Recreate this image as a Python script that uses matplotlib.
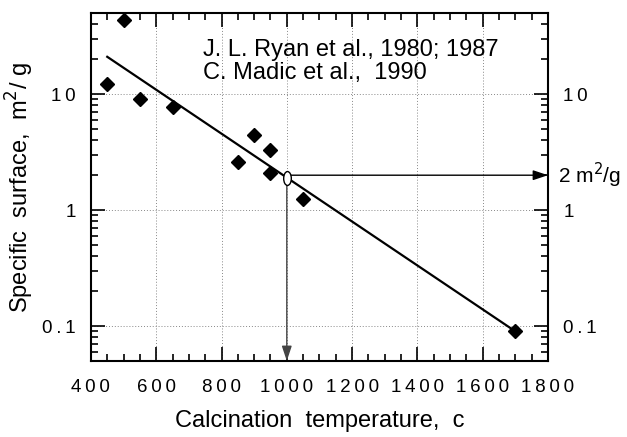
import matplotlib
matplotlib.use("Agg")
import matplotlib.pyplot as plt
import matplotlib.transforms as mtransforms
from matplotlib.path import Path
from matplotlib.ticker import MultipleLocator, LogLocator, FixedLocator, NullFormatter, FuncFormatter

plt.rcParams["font.family"] = ["Liberation Sans", "DejaVu Sans"]

# measured points (calcination temperature, specific surface)
temperature = [450, 500, 550, 650, 850, 900, 950, 950, 1050, 1700]
surface = [12.2, 44, 9.0, 7.7, 2.6, 4.4, 3.3, 2.1, 1.24, 0.09]

# fitted line end points
fit_temperature = [450, 1700]
fit_surface = [21, 0.09]

# read-off point
target_temperature = 1000
target_surface = 1.9
arrow_level = 2.0

x_ticks = [400, 600, 800, 1000, 1200, 1400, 1600, 1800]
y_ticks = [0.1, 1, 10]


def spaced(value, pos=None):
    # old typewriter-style tick labels have wide letter spacing
    return "\u2009".join(f"{value:g}")


fig = plt.figure(figsize=(6.27, 4.37), dpi=100)
ax = fig.add_axes([0.145, 0.174, 0.729, 0.796])

ax.set_yscale("log")
ax.set_xlim(400, 1800)
ax.set_ylim(0.05, 50)

ax.plot(fit_temperature, fit_surface, color="black", lw=1.6, zorder=3)
ax.plot(temperature, surface, linestyle="", marker="D", ms=7.5,
        color="black", zorder=4)

# arrows from the read-off point
ax.annotate("", xy=(1800, arrow_level), xytext=(target_temperature, arrow_level),
            arrowprops=dict(arrowstyle="-|>,head_length=0.9,head_width=0.3",
                            color="black", lw=1.0, shrinkA=0, shrinkB=0),
            zorder=2)
ax.annotate("", xy=(target_temperature, 0.05), xytext=(target_temperature, target_surface),
            arrowprops=dict(arrowstyle="-|>,head_length=0.9,head_width=0.3",
                            color="#444444", lw=1.0, shrinkA=0, shrinkB=0),
            zorder=2)

ellipse = Path.unit_circle().transformed(mtransforms.Affine2D().scale(0.55, 1.0))
ax.plot([target_temperature], [target_surface], linestyle="", marker=ellipse,
        ms=10, mfc="white", mec="black", mew=1.0, zorder=5)

ax.xaxis.set_major_locator(FixedLocator(x_ticks))
ax.xaxis.set_minor_locator(MultipleLocator(50))
ax.xaxis.set_major_formatter(FuncFormatter(spaced))
ax.yaxis.set_major_locator(FixedLocator(y_ticks))
ax.yaxis.set_minor_locator(LogLocator(base=10, subs=range(2, 10)))
ax.yaxis.set_minor_formatter(NullFormatter())
ax.yaxis.set_major_formatter(FuncFormatter(spaced))

ax.tick_params(which="both", direction="in", top=True, right=True,
               labelright=True, labelsize=13.5, width=1.2)
ax.tick_params(which="major", length=10)
ax.tick_params(axis="x", which="major", pad=13)
ax.tick_params(axis="y", which="major", pad=11)
ax.tick_params(which="minor", length=5)

ax.grid(True, which="major", linestyle=(0, (1, 2)), color="#888888", lw=0.7)
ax.set_axisbelow(True)

for spine in ax.spines.values():
    spine.set_linewidth(1.5)

ax.set_xlabel("Calcination  temperature,  c", fontsize=17, labelpad=10)
ax.set_ylabel("Specific  surface,  m$^2$/ g", fontsize=17, labelpad=4)

ax.text(0.245, 0.925, "J. L. Ryan et al., 1980; 1987\nC. Madic et al.,  1990",
        transform=ax.transAxes, fontsize=17, va="top", ha="left", linespacing=1.05)

trans = mtransforms.blended_transform_factory(ax.transAxes, ax.transData)
ax.text(1.022, arrow_level, "2 m$^2$/g", transform=trans, fontsize=15,
        va="center", ha="left")

fig.savefig("out.png", dpi=100)
